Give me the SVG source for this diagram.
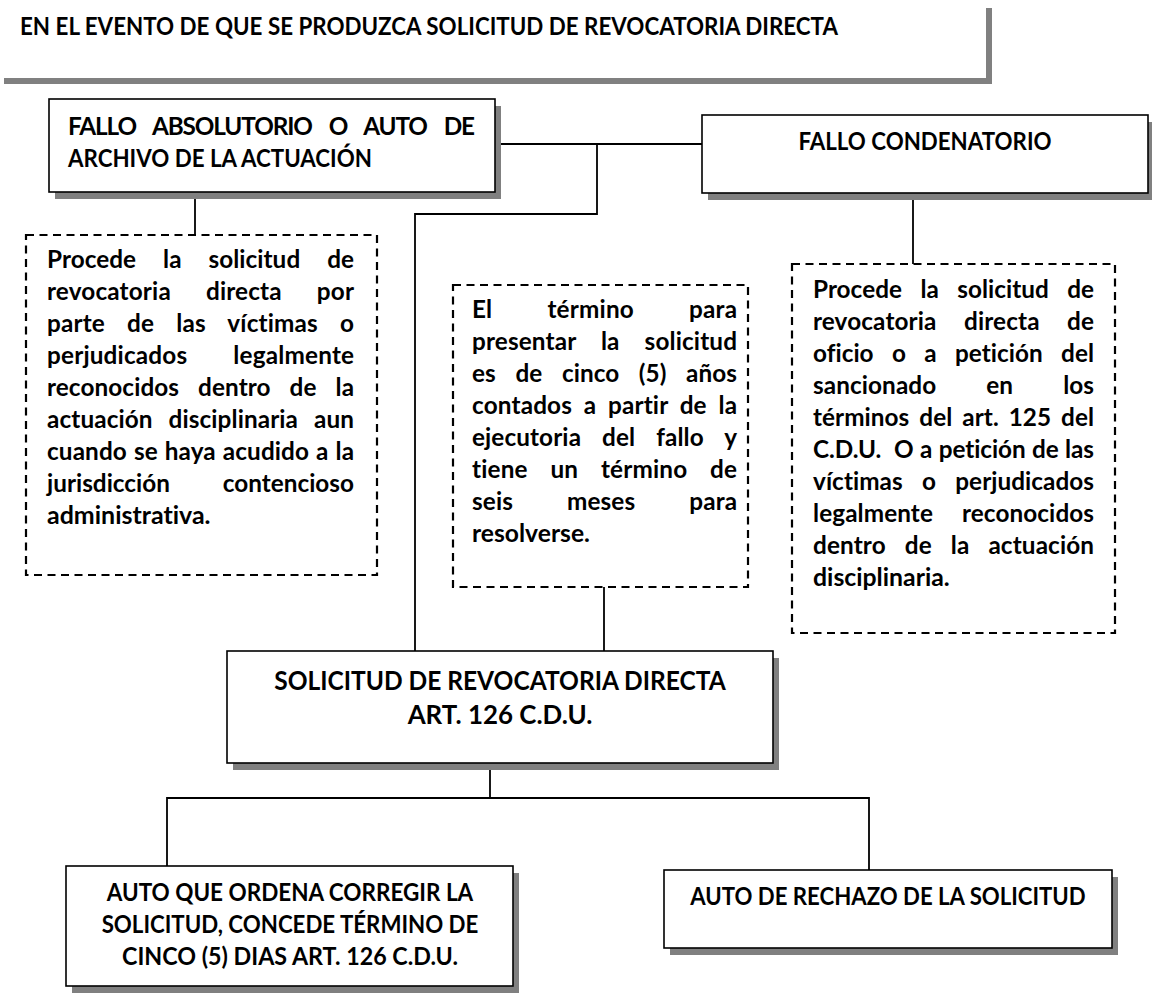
<svg xmlns="http://www.w3.org/2000/svg" width="1152" height="999" viewBox="0 0 1152 999">
<style>
.bg{fill:#fff}
.sh{fill:#808080}
.box{fill:#fff;stroke:#000;stroke-width:1.6}
.dash{fill:#fff;stroke:#000;stroke-width:2.2;stroke-dasharray:8 5.5}
.conn{fill:none;stroke:#000;stroke-width:1.8}
.t{font-family:Lato,"Liberation Sans",sans-serif;font-weight:700;font-size:24.3px;fill:#000;font-variant-ligatures:none;font-feature-settings:"liga" 0,"dlig" 0}
.b{font-size:26.6px}
.c{text-anchor:middle}
</style>
<rect class="bg" x="0" y="0" width="1152" height="999"/>
<g id="title">
<rect class="sh" x="4" y="8" width="988" height="76"/>
<rect class="bg" x="-2" y="2" width="988" height="76"/>
<text class="t" x="20" y="35" textLength="818" lengthAdjust="spacingAndGlyphs">EN EL EVENTO DE QUE SE PRODUZCA SOLICITUD DE REVOCATORIA DIRECTA</text>
</g>
<g id="connectors">
<path class="conn" d="M497 144H702"/>
<path class="conn" d="M597 144V214H415V651"/>
<path class="conn" d="M195 192V235"/>
<path class="conn" d="M913 193V264"/>
<path class="conn" d="M604 587V651"/>
<path class="conn" d="M490 763V798"/>
<path class="conn" d="M167 866V798H869V870"/>
</g>
<g id="fallo-absolutorio">
<rect class="sh" x="55" y="106" width="446" height="93"/>
<rect class="box" x="49" y="99" width="446" height="93"/>
<text class="t" x="68" y="135" textLength="407" lengthAdjust="spacing" style="word-spacing:12px">FALLO ABSOLUTORIO O AUTO DE</text>
<text class="t" x="68" y="167" textLength="304" lengthAdjust="spacingAndGlyphs">ARCHIVO DE LA ACTUACIÓN</text>
</g>
<g id="fallo-condenatorio">
<rect class="sh" x="708" y="122" width="446" height="78"/>
<rect class="box" x="702" y="115" width="446" height="78"/>
<text class="t c" x="925" y="150" textLength="253" lengthAdjust="spacingAndGlyphs">FALLO CONDENATORIO</text>
</g>
<g id="nota-absolutorio">
<rect class="dash" x="26" y="235" width="351" height="340"/>
<text class="t" x="47" y="268" textLength="307" lengthAdjust="spacing" style="word-spacing:21px">Procede la solicitud de</text>
<text class="t" x="47" y="300" textLength="307" lengthAdjust="spacing" style="word-spacing:29px">revocatoria directa por</text>
<text class="t" x="47" y="332" textLength="307" lengthAdjust="spacing" style="word-spacing:16px">parte de las víctimas o</text>
<text class="t" x="47" y="364" textLength="307" lengthAdjust="spacing" style="word-spacing:40px">perjudicados legalmente</text>
<text class="t" x="47" y="396" textLength="307" lengthAdjust="spacing" style="word-spacing:13px">reconocidos dentro de la</text>
<text class="t" x="47" y="428" textLength="307" lengthAdjust="spacing" style="word-spacing:10px">actuación disciplinaria aun</text>
<text class="t" x="47" y="460" textLength="307" lengthAdjust="spacing" style="word-spacing:1px">cuando se haya acudido a la</text>
<text class="t" x="47" y="492" textLength="307" lengthAdjust="spacing" style="word-spacing:47px">jurisdicción contencioso</text>
<text class="t" x="47" y="524" textLength="163.5" lengthAdjust="spacingAndGlyphs">administrativa.</text>
</g>
<g id="nota-termino">
<rect class="dash" x="453" y="285" width="295" height="302"/>
<text class="t" x="472" y="318" textLength="265" lengthAdjust="spacing" style="word-spacing:49px">El término para</text>
<text class="t" x="472" y="350" textLength="265" lengthAdjust="spacing" style="word-spacing:19px">presentar la solicitud</text>
<text class="t" x="472" y="382" textLength="265" lengthAdjust="spacing" style="word-spacing:13.6px">es de cinco (5) años</text>
<text class="t" x="472" y="414" textLength="265" lengthAdjust="spacing" style="word-spacing:5.7px">contados a partir de la</text>
<text class="t" x="472" y="446" textLength="265" lengthAdjust="spacing" style="word-spacing:15px">ejecutoria del fallo y</text>
<text class="t" x="472" y="478" textLength="265" lengthAdjust="spacing" style="word-spacing:16.7px">tiene un término de</text>
<text class="t" x="472" y="510" textLength="265" lengthAdjust="spacing" style="word-spacing:48px">seis meses para</text>
<text class="t" x="472" y="542" textLength="117.9" lengthAdjust="spacingAndGlyphs">resolverse.</text>
</g>
<g id="nota-condenatorio">
<rect class="dash" x="792" y="264" width="323" height="369"/>
<text class="t" x="813" y="298" textLength="281" lengthAdjust="spacing" style="word-spacing:12.5px">Procede la solicitud de</text>
<text class="t" x="813" y="330" textLength="281" lengthAdjust="spacing" style="word-spacing:21.5px">revocatoria directa de</text>
<text class="t" x="813" y="362" textLength="281" lengthAdjust="spacing" style="word-spacing:12.4px">oficio o a petición del</text>
<text class="t" x="813" y="394" textLength="281" lengthAdjust="spacing" style="word-spacing:44px">sancionado en los</text>
<text class="t" x="813" y="426" textLength="281" lengthAdjust="spacing" style="word-spacing:4px">términos del art. 125 del</text>
<text class="t" x="813" y="458" textLength="281" lengthAdjust="spacing" style="word-spacing:0.6px">C.D.U.&#160; O a petición de las</text>
<text class="t" x="813" y="490" textLength="281" lengthAdjust="spacing" style="word-spacing:13.3px">víctimas o perjudicados</text>
<text class="t" x="813" y="522" textLength="281" lengthAdjust="spacing" style="word-spacing:23px">legalmente reconocidos</text>
<text class="t" x="813" y="554" textLength="281" lengthAdjust="spacing" style="word-spacing:13px">dentro de la actuación</text>
<text class="t" x="813" y="586" textLength="136.7" lengthAdjust="spacingAndGlyphs">disciplinaria.</text>
</g>
<g id="solicitud">
<rect class="sh" x="233" y="658" width="546" height="112"/>
<rect class="box" x="227" y="651" width="546" height="112"/>
<text class="t b c" x="500" y="690" textLength="451.6" lengthAdjust="spacingAndGlyphs">SOLICITUD DE REVOCATORIA DIRECTA</text>
<text class="t b c" x="500" y="724" textLength="184.7" lengthAdjust="spacingAndGlyphs">ART. 126 C.D.U.</text>
</g>
<g id="auto-corregir">
<rect class="sh" x="72" y="873" width="447" height="120"/>
<rect class="box" x="66" y="866" width="447" height="120"/>
<text class="t c" x="290" y="901" textLength="366.5" lengthAdjust="spacingAndGlyphs">AUTO QUE ORDENA CORREGIR LA</text>
<text class="t c" x="290" y="933" textLength="376.7" lengthAdjust="spacingAndGlyphs">SOLICITUD, CONCEDE TÉRMINO DE</text>
<text class="t c" x="290" y="965" textLength="336" lengthAdjust="spacingAndGlyphs">CINCO (5) DIAS ART. 126 C.D.U.</text>
</g>
<g id="auto-rechazo">
<rect class="sh" x="670" y="877" width="448" height="78"/>
<rect class="box" x="664" y="870" width="448" height="78"/>
<text class="t c" x="888" y="905" textLength="395.4" lengthAdjust="spacingAndGlyphs">AUTO DE RECHAZO DE LA SOLICITUD</text>
</g>
</svg>
